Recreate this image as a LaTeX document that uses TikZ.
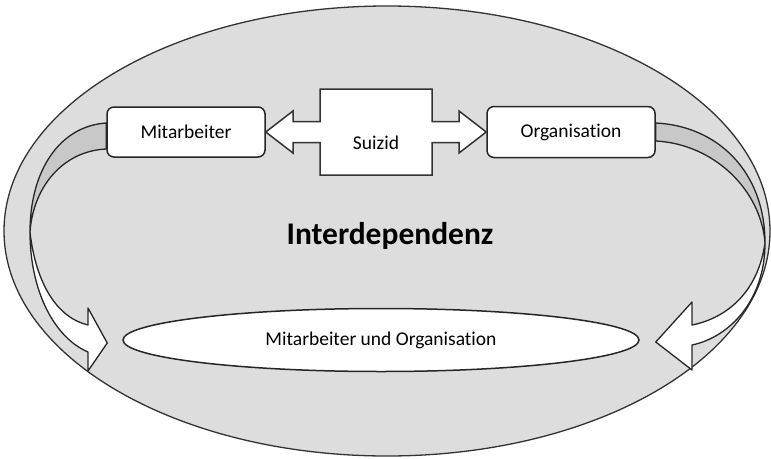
\documentclass[tikz,border=0pt]{standalone}
\usepackage{fontspec}
\setmainfont{Carlito}[Ligatures=NoCommon]
\usetikzlibrary{shapes.geometric, calc}

\definecolor{bggray}{RGB}{221,221,221}
\definecolor{bandgray}{RGB}{200,200,200}

\begin{document}
\begin{tikzpicture}[
    x=1pt, y=-1pt, % pixel units, y pointing down
    frame/.style={draw=black!80, line width=1.3pt, fill=bggray, ellipse, inner sep=0pt},
    box/.style={draw=black!85, line width=1.5pt, fill=white, rounded corners=7pt,
        font=\fontsize{19.5}{21}\selectfont},
    oval/.style={draw=black!85, line width=1.5pt, fill=white, ellipse, inner sep=0pt,
        font=\fontsize{19.5}{21}\selectfont},
    band/.style={draw=black!85, line width=1.3pt, fill=bandgray, line join=round},
    front/.style={draw=black!85, line width=1.3pt, fill=white, line join=round},
    boxarrow/.style={draw=black!80, line width=1.5pt, fill=white, line join=miter}
]
\useasboundingbox (0,0) rectangle (771,458);

% Big ellipse
\node[frame, minimum width=766, minimum height=450] (frame) at (387,231) {};
\node[font=\fontsize{31.5}{33}\selectfont\bfseries] (inter) at (390,236) {Interdependenz};

% Boxes
\node[box, minimum width=158, minimum height=50] (mitarbeiter) at (186,132) {Mitarbeiter};
\node[box, minimum width=168, minimum height=51] (organisation) at (571,132) {Organisation};
\node[oval, minimum width=516, minimum height=63] (both) at (381,340) {Mitarbeiter und Organisation};

% Left curved arrow
\coordinate (lo) at ($(mitarbeiter.west)+(0,-9)$);
\coordinate (li) at ($(mitarbeiter.west)+(0,17)$);
\coordinate (lm) at (30,232); % twist
\coordinate (ltip) at ($(both.west)+(-15,3)$);
\draw[band] (lo) .. controls (60,126) and (30,170) .. (lm)
    .. controls (33,188) and (62,151) .. (li) -- cycle;
\draw[front] (lm) .. controls (30,292) and (55,338) .. (88,352) -- (88,371)
    -- (ltip) -- (88,308) -- (88,325) .. controls (58,318) and (36,285) .. (lm) -- cycle;

% Right curved arrow
\coordinate (ro) at ($(organisation.east)+(0,-9)$);
\coordinate (ri) at ($(organisation.east)+(0,9)$);
\coordinate (rm) at (765,243); % twist
\coordinate (rtip) at ($(both.east)+(16,2)$);
\draw[band] (ro) .. controls (718,126) and (765,172) .. (rm)
    .. controls (761,190) and (714,144) .. (ri) -- cycle;
\draw[front] (rm) .. controls (765,300) and (730,337) .. (692,345) -- (692,370)
    -- (rtip) -- (692,302) -- (692,325) .. controls (727,318) and (758,292) .. (rm) -- cycle;

% Double arrow between the boxes
\draw[boxarrow] (mitarbeiter.east) -- (293,111) -- (293,121.5) -- (320,121.5) -- (320,89)
    -- (432,89) -- (432,121.5) -- (459,121.5) -- (459,111) -- (organisation.west)
    -- (459,153) -- (459,142.5) -- (432,142.5) -- (432,175) -- (320,175)
    -- (320,142.5) -- (293,142.5) -- (293,153) -- cycle;
\node[font=\fontsize{19.5}{21}\selectfont] (suizid) at (376,143) {Suizid};

\end{tikzpicture}
\end{document}
